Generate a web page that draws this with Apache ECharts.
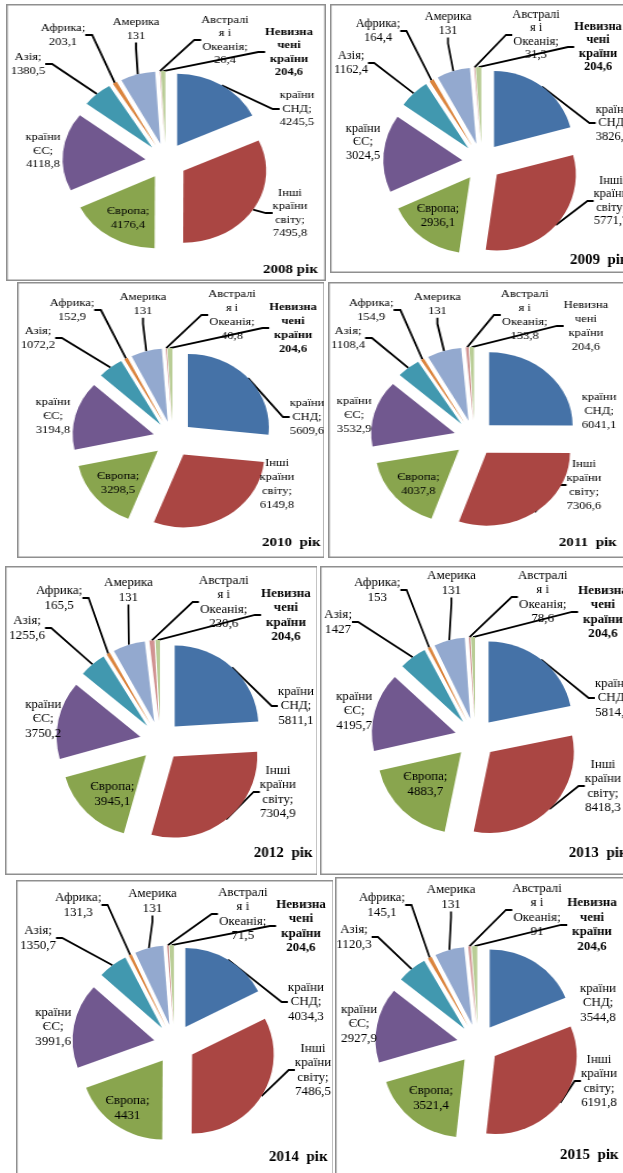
<!DOCTYPE html>
<html><head><meta charset="utf-8">
<script src="https://cdn.jsdelivr.net/npm/echarts@6/dist/echarts.min.js"></script>
<style>
html,body{margin:0;padding:0;background:#fff;}
#wrap{position:relative;width:623px;height:1173px;overflow:hidden;background:#fff;}
.pn{position:absolute;transform-origin:0 0;}
</style>
</head><body><div id="wrap"></div>
<script>
// ---- data ----
const years = ['2008', '2009', '2010', '2011', '2012', '2013', '2014', '2015'];
const yearTitles = ['2008 рік', '2009  рік', '2010  рік', '2011  рік', '2012  рік', '2013  рік', '2014  рік', '2015  рік'];
const categories = ['країни СНД', 'Інші країни світу', 'Європа', 'країни ЄС', 'Азія', 'Африка', 'Америка', 'Австралія і Океанія', 'Невизначені країни'];
const labelNames = ['країни\nСНД;', 'Інші\nкраїни\nсвіту;', 'Європа;', 'країни\nЄС;', 'Азія;', 'Африка;', 'Америка', 'Австралі\nя і\nОкеанія;', 'Невизна\nчені\nкраїни'];
const cis = [4245.5, 3826.6, 5609.6, 6041.1, 5811.1, 5814.3, 4034.3, 3544.8];
const otherWorld = [7495.8, 5771.7, 6149.8, 7306.6, 7304.9, 8418.3, 7486.5, 6191.8];
const europe = [4176.4, 2936.1, 3298.5, 4037.8, 3945.1, 4883.7, 4431, 3521.4];
const eu = [4118.8, 3024.5, 3194.8, 3532.9, 3750.2, 4195.7, 3991.6, 2927.9];
const asia = [1380.5, 1162.4, 1072.2, 1108.4, 1255.6, 1427, 1350.7, 1120.3];
const africa = [203.1, 164.4, 152.9, 154.9, 165.5, 153, 131.3, 145.1];
// America: slice size; label value as printed
const americaSlice = [1600, 1250, 1300, 1600, 1500, 1600, 1300, 1100];
const americaLabel = [131, 131, 131, 131, 131, 131, 131, 131];
const oceania = [26.4, 31.3, 40.8, 133.8, 230.6, 78.6, 71.5, 91];
const undefinedC = [204.6, 204.6, 204.6, 204.6, 204.6, 204.6, 204.6, 204.6];

// ---- style / layout (page pixel coordinates) ----
const colors = ['#4572A7', '#AA4643', '#89A54E', '#71588F', '#4198AF', '#DB843D', '#93A9CF', '#D19392', '#B9CD96'];
const boldUndef = [true, true, true, false, true, true, true, true];
const lineShow = [
  [1,1,0,0,1,1,1,1,1],[1,1,0,0,1,1,1,1,1],[1,0,0,0,1,1,1,1,1],[0,1,0,0,1,1,1,1,1],
  [1,1,0,0,1,1,1,1,1],[1,1,0,0,1,1,1,1,1],[1,1,0,0,1,1,1,1,1],[0,1,0,0,1,1,1,1,1]
];
// sx: horizontal stretch of each (non-uniformly resized) panel picture
const panels = [
  {box:[6,4,320,277], sx:1.15, center:[166,161], r:72, ex:18, fs:12.5, lh:13.5, title:[263,270],
   labels:[[297,109],[290,213],[128,218],[43,151],[28,64],[63,35],[136,29],[225,40],[289,52]]},
  {box:[330,4,310,269], sx:1.04, center:[482,162], r:76, ex:19, fs:12.5, lh:13.5, title:[570,260],
   labels:[[613,123],[611,201],[438,216],[363,142],[351,63],[378,31],[448,24],[536,35],[598,47]]},
  {box:[17,282,308,276], sx:1.11, center:[173,439], r:73, ex:18, fs:12.5, lh:13.8, title:[262,543],
   labels:[[307,417],[277,484],[118,483],[53,416],[38,338],[72,310],[143,304],[232,315],[293,328]]},
  {box:[328,282,312,276], sx:1.14, center:[474,438], r:73, ex:18, fs:12.5, lh:13.8, title:[558,543],
   labels:[[598,411],[583,485],[418,484],[354,415],[348,338],[371,310],[437,304],[524,315],[585,326]]},
  {box:[5,566,312,309], sx:1.03, center:[160,741], r:81, ex:20, fs:13, lh:14.5, title:[253,853],
   labels:[[295,706],[277,792],[112,794],[43,719],[27,628],[59,598],[128,590],[223,602],[285,615]]},
  {box:[320,566,320,309], sx:1.03, center:[475,738], r:81, ex:20, fs:13, lh:14.5, title:[568,853],
   labels:[[612,698],[602,786],[425,784],[354,711],[338,622],[377,590],[451,583],[542,597],[602,612]]},
  {box:[16,880,317,320], sx:1.03, center:[174,1044], r:79, ex:20, fs:13, lh:14.5, title:[268,1157],
   labels:[[305,1002],[312,1070],[127,1108],[53,1027],[38,938],[78,905],[152,901],[242,914],[300,926]]},
  {box:[335,877,305,320], sx:1.05, center:[478,1044], r:78, ex:20, fs:13, lh:14.5, title:[560,1155],
   labels:[[598,1003],[599,1081],[431,1098],[359,1024],[354,937],[382,905],[451,897],[537,910],[592,925]]}
];
const FONT = '"Liberation Serif", "Times New Roman", serif';
const fmt = v => String(v).replace('.', ',');
const CLEAR = 'rgba(0,0,0,0)';
const wrap = document.getElementById('wrap');

years.forEach((yr, i) => {
  const P = panels[i];
  const [bx, by, bw, bh] = P.box;
  const lw = bw / P.sx;                       // local (unstretched) width
  const toX = x => (x - bx) / P.sx;           // page x -> local x
  const toY = y => y - by;
  const div = document.createElement('div');
  div.className = 'pn';
  div.style.cssText = `left:${bx}px;top:${by}px;width:${lw}px;height:${bh}px;transform:scaleX(${P.sx});`;
  wrap.appendChild(div);

  const vals = [cis[i], otherWorld[i], europe[i], eu[i], asia[i], africa[i], americaSlice[i], oceania[i], undefinedC[i]];
  const shown = [cis[i], otherWorld[i], europe[i], eu[i], asia[i], africa[i], americaLabel[i], oceania[i], undefinedC[i]];
  const total = vals.reduce((a, b) => a + b, 0);
  const fs = P.fs / P.sx;
  let cum = 0;
  const series = [];
  // one pie series per slice, so each slice is pulled out from the centre (exploded pie)
  vals.forEach((v, j) => {
    const mid = (cum + v / 2) / total * 2 * Math.PI;
    cum += v;
    const cx = toX(P.center[0]) + P.ex * Math.sin(mid);
    const cy = toY(P.center[1]) - P.ex * Math.cos(mid);
    series.push({
      type: 'pie', name: yr + ' ' + categories[j], center: [cx, cy], radius: P.r,
      startAngle: 90, clockwise: true, avoidLabelOverlap: false, animation: false, silent: true,
      emphasis: {disabled: true},
      label: {show: true, position: 'outside', fontFamily: FONT, fontSize: fs, lineHeight: P.lh, color: '#000',
        formatter: p => labelNames[p.dataIndex] + '\n' + fmt(p.data.shown)},
      labelLine: {show: true, length: 8, length2: 6, minTurnAngle: 0, lineStyle: {color: '#000', width: 1.8}},
      labelLayout: params => {
        const pos = P.labels[params.dataIndex];
        return {x: toX(pos[0]), y: toY(pos[1]), align: 'center', verticalAlign: 'middle'};
      },
      data: categories.map((c, k) => ({
        name: c, value: vals[k], shown: shown[k],
        itemStyle: {color: k === j ? colors[k] : CLEAR, borderWidth: 0},
        label: k === j ? {show: true, fontWeight: (k === 8 && boldUndef[i]) ? 'bold' : 'normal'} : {show: false},
        labelLine: {show: k === j && !!lineShow[i][k]}
      }))
    });
  });

  const graphic = [
    {type: 'rect', z: 1, shape: {x: 0.75, y: 0.75, width: lw - 1.5, height: bh - 1.5},
     style: {fill: 'none', stroke: '#8f8f8f', lineWidth: 1.5}},
    {type: 'text', z: 5, x: toX(P.title[0]), y: toY(P.title[1]),
     style: {text: yearTitles[i], font: `bold ${15 / P.sx}px ${FONT}`, fill: '#000', align: 'left', verticalAlign: 'middle'}}
  ];
  const chart = echarts.init(div, null, {width: lw, height: bh});
  chart.setOption({backgroundColor: 'transparent', animation: false, graphic: graphic, series: series});
});
</script></body></html>
